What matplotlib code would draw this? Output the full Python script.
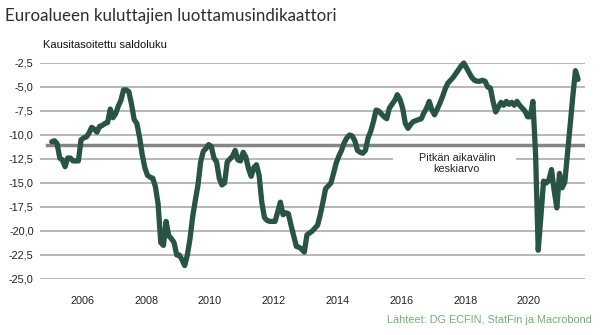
import matplotlib
matplotlib.use("Agg")
import matplotlib.pyplot as plt
from matplotlib.patches import Rectangle

# ---- data (monthly, Jan 2005 .. Jul 2021) ----
start_year = 2005
values = [
    # 2005
    -10.7, -10.6, -10.9, -12.4, -12.6, -13.3, -12.4, -12.4, -12.7, -12.7, -12.7, -10.5,
    # 2006
    -10.3, -10.2, -9.8, -9.2, -9.4, -9.7, -9.1, -9.0, -8.8, -8.7, -7.3, -8.2,
    # 2007
    -7.8, -7.0, -6.4, -5.3, -5.3, -5.5, -6.8, -8.4, -8.8, -10.2, -12.0, -13.4,
    # 2008
    -14.2, -14.4, -14.5, -15.4, -17.2, -21.2, -21.5, -19.0, -20.5, -20.8, -21.2, -22.5,
    # 2009
    -22.5, -23.0, -23.6, -22.5, -20.8, -18.5, -16.8, -15.2, -12.8, -11.7, -11.4, -11.0,
    # 2010
    -11.2, -12.4, -12.8, -14.5, -15.2, -15.0, -12.8, -12.5, -12.2, -11.6, -12.6, -12.7,
    # 2011
    -11.8, -12.3, -13.5, -14.3, -13.4, -13.1, -14.2, -17.0, -18.6, -18.9, -19.0, -19.0,
    # 2012
    -19.0, -18.0, -17.0, -18.3, -18.1, -18.2, -19.4, -20.5, -21.6, -21.7, -21.9, -22.2,
    # 2013
    -20.4, -20.2, -20.0, -19.7, -19.4, -18.3, -17.0, -15.6, -15.3, -15.0, -14.0, -12.9,
    # 2014
    -12.2, -11.6, -10.8, -10.3, -10.0, -10.1, -10.6, -11.6, -11.8, -11.9, -11.6, -10.3,
    # 2015
    -9.6, -8.6, -7.4, -7.5, -7.8, -8.1, -8.3, -7.2, -6.8, -6.4, -5.8, -6.3,
    # 2016
    -7.2, -8.8, -9.3, -8.9, -8.6, -8.5, -8.4, -8.3, -7.7, -7.2, -6.5, -7.4,
    # 2017
    -7.9, -7.3, -6.7, -6.0, -5.2, -4.6, -4.3, -4.0, -3.6, -3.2, -2.8, -2.5,
    # 2018
    -3.0, -3.5, -4.0, -4.3, -4.4, -4.4, -4.3, -4.4, -5.0, -5.1, -6.5, -7.6,
    # 2019
    -7.1, -6.6, -6.9, -6.5, -6.8, -6.6, -6.9, -6.5, -6.9, -7.2, -7.5, -8.1,
    # 2020
    -8.1, -6.5, -12.0, -22.0, -18.5, -14.8, -15.0, -14.7, -13.6, -15.8, -17.6, -14.0,
    # 2021
    -15.5, -14.9, -12.0, -9.0, -6.0, -3.3, -4.2,
]
long_term_avg = -11.0
avg_label = "Pitkän aikavälin\nkeskiarvo"

x_years = [2006, 2008, 2010, 2012, 2014, 2016, 2018, 2020]
y_ticks = [-2.5, -5.0, -7.5, -10.0, -12.5, -15.0, -17.5, -20.0, -22.5, -25.0]
y_tick_labels = ["-2,5", "-5,0", "-7,5", "-10,0", "-12,5", "-15,0", "-17,5", "-20,0", "-22,5", "-25,0"]

title = "Euroalueen kuluttajien luottamusindikaattori"
subtitle = "Kausitasoitettu saldoluku"
source = "Lähteet: DG ECFIN, StatFin ja Macrobond"

# mid-month positions
xs = [start_year + (i + 0.5) / 12 for i in range(len(values))]

# ---- figure ----
fig = plt.figure(figsize=(6.0, 3.35), dpi=100)
ax = fig.add_axes([40 / 600, 1 - 279 / 335, 545 / 600, 216 / 335])

LINE_COL = "#285443"
GRID_COL = "#ababab"
AVG_COL = "#858585"
TXT = "Liberation Sans"

ax.set_xlim(2004.672, 2021.758)
ax.set_ylim(-25, -2.5)

for v in y_ticks:
    ax.axhline(v, color=GRID_COL, lw=1.2, zorder=0)

# white gap behind the label
ax.add_patch(Rectangle((2015.74, -13.1), 2019.59 - 2015.74, 1.2,
                       facecolor="white", edgecolor="none", zorder=1))

ax.axhline(long_term_avg, xmin=0.012, xmax=1.0, color=AVG_COL, lw=2.5, zorder=2)

ax.plot(xs, values, color=LINE_COL, lw=3.8, solid_joinstyle="round",
        solid_capstyle="round", zorder=3, clip_on=False)

ax.text(2017.74, -12.97, avg_label, ha="center", va="center", fontsize=7.8,
        family=TXT, color="#222222", linespacing=1.15, zorder=4)

for s in ax.spines.values():
    s.set_visible(False)

ax.set_yticks(y_ticks)
ax.set_yticklabels(y_tick_labels)
ax.set_xticks(x_years)
ax.set_xticklabels([str(y) for y in x_years])
ax.tick_params(axis="y", length=0, pad=4.5, labelsize=7.8, labelcolor="#222222")
ax.tick_params(axis="x", length=0, pad=12, labelsize=7.8, labelcolor="#222222")
for lab in ax.get_xticklabels() + ax.get_yticklabels():
    lab.set_family(TXT)

fig.text(5 / 600, 1 - 16 / 335, title, ha="left", va="center", fontsize=12.2,
         family="Lato", fontweight="normal", color="#2e2e2e")
fig.text(43 / 600, 1 - 45 / 335, subtitle, ha="left", va="center", fontsize=8,
         family=TXT, color="#111111")
fig.text(592 / 600, 1 - 320 / 335, source, ha="right", va="center", fontsize=7.8,
         family=TXT, color="#72b072")

fig.savefig("out.png", dpi=100)
